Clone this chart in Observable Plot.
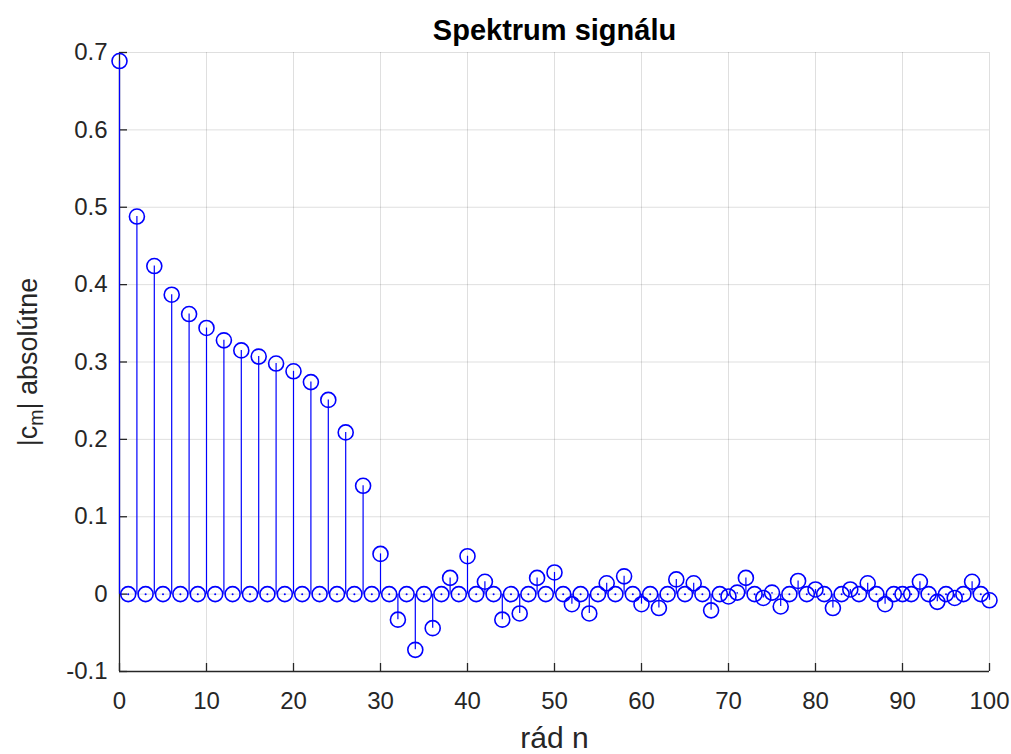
<!DOCTYPE html>
<html>
<head>
<meta charset="utf-8">
<script src="https://cdn.jsdelivr.net/npm/d3@7"></script>
<script src="https://cdn.jsdelivr.net/npm/@observablehq/plot@0.6"></script>
<style>
  html, body { margin: 0; padding: 0; background: #ffffff; }
  #chart svg { display: block; }
</style>
</head>
<body>
<div id="chart"></div>
<script>
// Spectrum values |c_m| for orders n = 0 … 100
const values = [
  0.689, 0, 0.488, 0, 0.424, 0, 0.387, 0, 0.362, 0,
  0.344, 0, 0.328, 0, 0.315, 0, 0.307, 0, 0.298, 0,
  0.288, 0, 0.274, 0, 0.251, 0, 0.209, 0, 0.140, 0,
  0.052, 0, -0.033, 0, -0.072, 0, -0.044, 0, 0.021, 0,
  0.049, 0, 0.016, 0, -0.033, 0, -0.025, 0, 0.021, 0,
  0.028, 0, -0.013, 0, -0.025, 0, 0.014, 0, 0.023, 0,
  -0.013, 0, -0.018, 0, 0.019, 0, 0.014, 0, -0.021, 0,
  -0.003, 0.002, 0.021, 0, -0.005, 0.002, -0.016, 0, 0.017, 0,
  0.006, 0, -0.018, 0, 0.006, 0, 0.014, 0, -0.013, 0,
  0, 0, 0.016, 0, -0.010, 0, -0.005, 0, 0.016, 0,
  -0.008
];
const xTicks = [0, 10, 20, 30, 40, 50, 60, 70, 80, 90, 100];
const yTicks = [-0.1, 0, 0.1, 0.2, 0.3, 0.4, 0.5, 0.6, 0.7];
const yTickLabels = ["-0.1", "0", "0.1", "0.2", "0.3", "0.4", "0.5", "0.6", "0.7"];
const titleText = "Spektrum signálu";
const xLabelText = "rád n";
const yLabelParts = ["|c", "m", "| absolútne"];

const data = values.map((v, i) => ({n: i, v}));
const zeros = data.filter(d => d.v === 0);

const W = 1011, H = 754;
const mL = 119, mR = 22, mT = 52, mB = 83;
const frameW = W - mL - mR, frameH = H - mT - mB;
const axisColor = "#262626";
const blue = "#0000ff";
const font = "'Liberation Sans', Arial, Helvetica, sans-serif";

const chart = Plot.plot({
  width: W,
  height: H,
  marginLeft: mL, marginRight: mR, marginTop: mT, marginBottom: mB,
  x: {domain: [0, 100]},
  y: {domain: [-0.1, 0.7]},
  style: {fontFamily: font, background: "#ffffff", color: axisColor, overflow: "visible"},
  marks: [
    // grid
    Plot.ruleX(xTicks, {stroke: axisColor, strokeOpacity: 0.15, strokeWidth: 1}),
    Plot.ruleY(yTicks, {stroke: axisColor, strokeOpacity: 0.15, strokeWidth: 1}),
    // axis lines
    Plot.ruleX([0], {stroke: axisColor, strokeWidth: 1.3}),
    Plot.ruleY([-0.1], {stroke: axisColor, strokeWidth: 1.3}),
    // inward ticks
    Plot.tickX(xTicks, {stroke: axisColor, strokeWidth: 1.3, insetTop: frameH - 8}),
    Plot.tickY(yTicks, {stroke: axisColor, strokeWidth: 1.3, insetRight: frameW - 8}),
    // tick labels
    Plot.axisX(xTicks, {tickSize: 0, tickPadding: 20, fontSize: 24, color: axisColor, label: null, tickFormat: d => String(d)}),
    Plot.axisY(yTicks, {tickSize: 0, tickPadding: 12, fontSize: 24, color: axisColor, label: null, tickFormat: d => yTickLabels[yTicks.indexOf(d)]}),
    // stems
    Plot.ruleX(data, {x: "n", y1: () => 0, y2: "v", stroke: blue, strokeWidth: 1.2}),
    Plot.dot(zeros, {x: "n", y: "v", r: 1, fill: blue}),
    Plot.dot(data, {x: "n", y: "v", r: 7.5, stroke: blue, strokeWidth: 1.6, fill: "none"}),
    // title & labels
    Plot.text([titleText], {text: d => d, frameAnchor: "top", lineAnchor: "middle", textAnchor: "middle", dy: -22, fontSize: 29, fontWeight: "bold", fill: "#000000"}),
    Plot.text([xLabelText], {text: d => d, frameAnchor: "bottom", lineAnchor: "middle", textAnchor: "middle", dy: 67, fontSize: 30, fill: axisColor}),
    Plot.text([yLabelParts.join("")], {text: d => d, frameAnchor: "left", lineAnchor: "middle", textAnchor: "middle", dx: -91, rotate: -90, fontSize: 27, fill: axisColor})
  ]
});

document.getElementById("chart").appendChild(chart);

// Render the subscript in the y label
d3.select(chart).selectAll("text").each(function() {
  if (this.textContent === yLabelParts.join("")) {
    const t = d3.select(this);
    t.text(null);
    t.append("tspan").text(yLabelParts[0]);
    t.append("tspan").attr("dy", "0.3em").attr("font-size", "0.72em").text(yLabelParts[1]);
    t.append("tspan").attr("dy", "-0.216em").text(yLabelParts[2]);
  }
});
</script>
</body>
</html>
